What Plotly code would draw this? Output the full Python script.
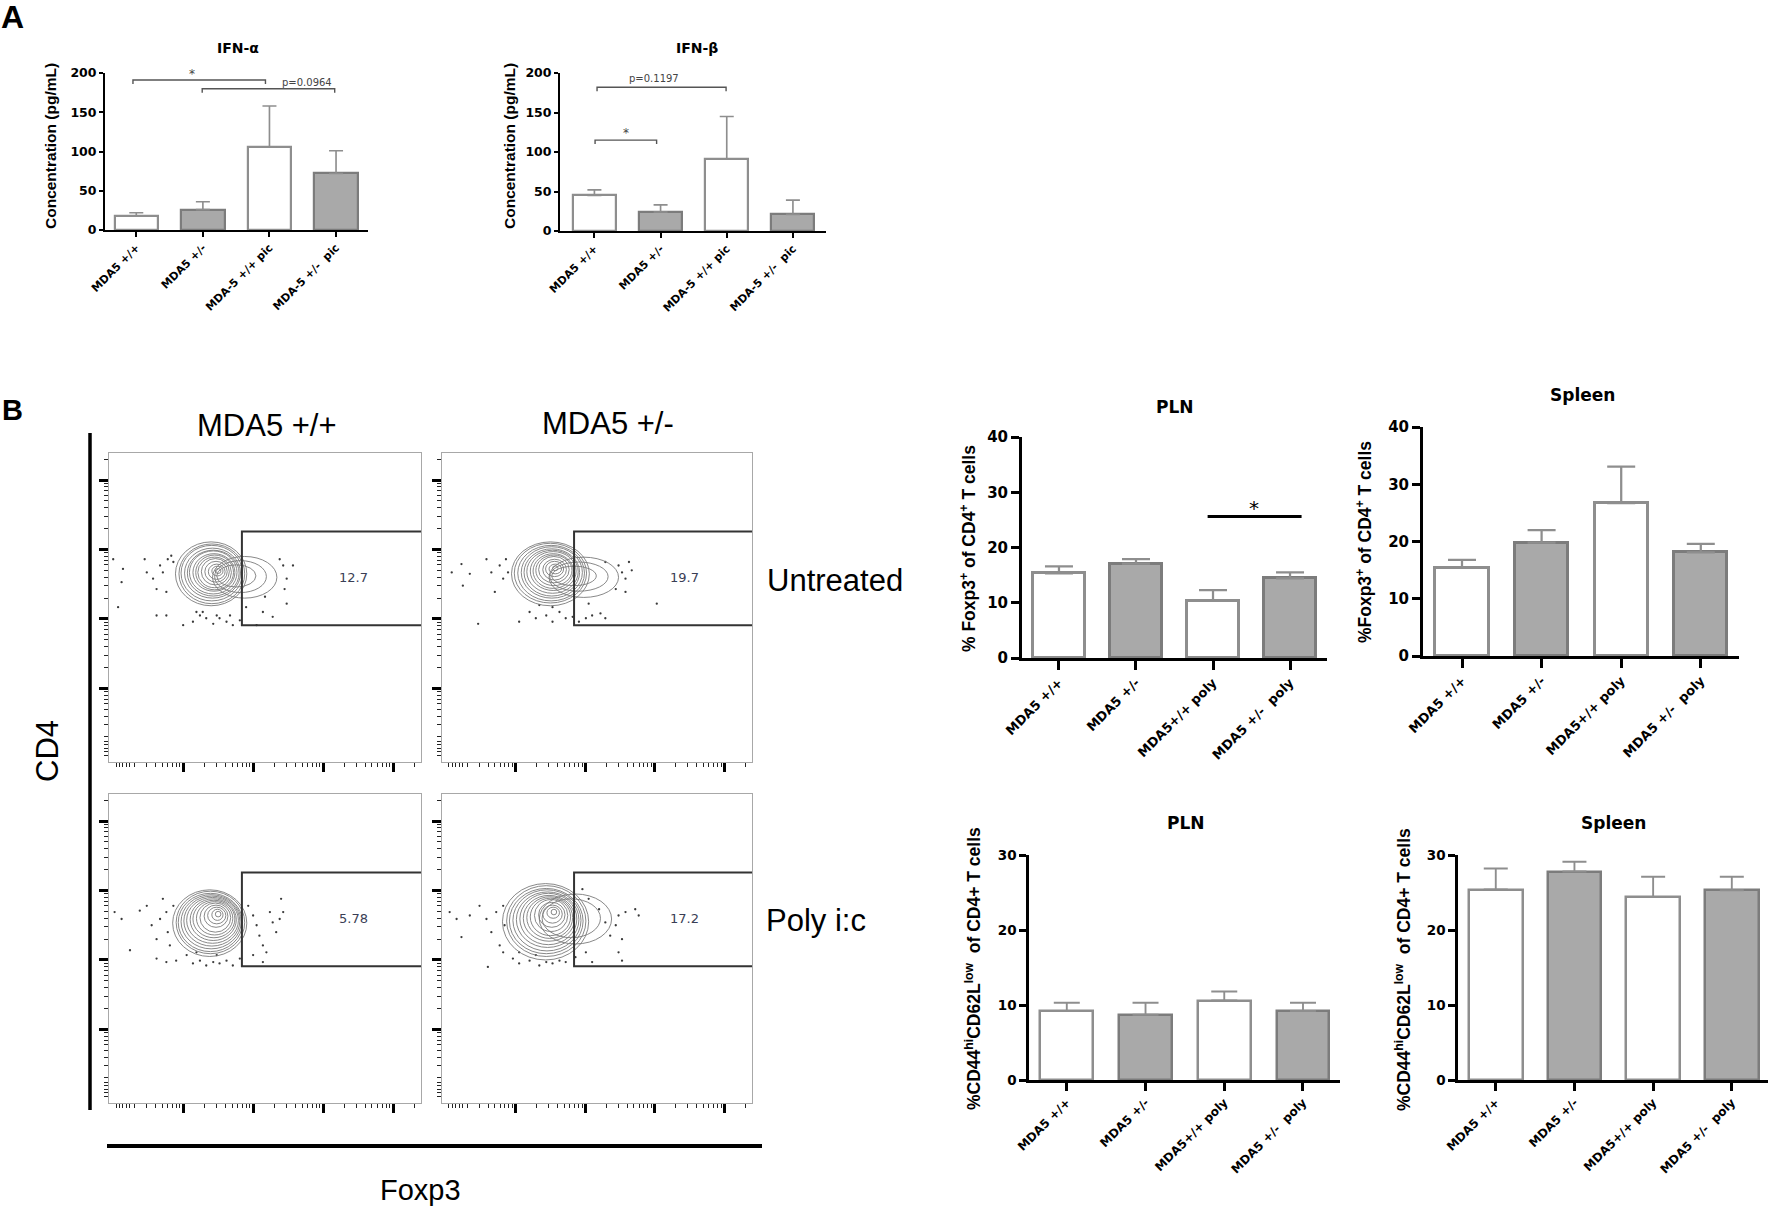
import math
import plotly.graph_objects as go

W, H = 1772, 1209

# --- A: serum interferon (pg/mL), mean and SEM ---
ifn_groups = ["MDA5 +/+", "MDA5 +/-", "MDA-5 +/+ pic", "MDA-5 +/-\u00a0 pic"]
ifna_mean = [18, 26, 106, 72]
ifna_sem = [4, 10, 52, 29]
ifnb_mean = [45, 24, 91, 21]
ifnb_sem = [7, 9, 54, 18]

# brackets: (from, to, level, label, label x, label y)
ifna_sig = [(-0.05, 1.94, 191, "*", 0.83, 199), (0.99, 2.98, 180, "p=0.0964", 2.56, 188)]
ifnb_sig = [(0.04, 1.99, 182, "p=0.1197", 0.9, 193), (0.01, 0.94, 115, "*", 0.48, 124)]

# --- B: % of CD4+ T cells, mean and SEM ---
b_groups = ["MDA5 +/+", "MDA5 +/-", "MDA5+/+ poly", "MDA5 +/-\u00a0 poly"]
pln_foxp3_mean = [15.3, 17.1, 10.4, 14.4]
pln_foxp3_sem = [1.3, 0.8, 1.9, 1.1]
spl_foxp3_mean = [15.4, 19.8, 26.7, 18.1]
spl_foxp3_sem = [1.4, 2.2, 6.4, 1.5]
pln_cd44_mean = [9.2, 8.7, 10.6, 9.2]
pln_cd44_sem = [1.1, 1.6, 1.2, 1.1]
spl_cd44_mean = [25.4, 27.8, 24.4, 25.3]
spl_cd44_sem = [2.8, 1.3, 2.7, 1.8]
pln_foxp3_sig = (1.93, 3.15, 25.6, "*", 2.53, 27.2)

# --- B: flow plots (log decades), Foxp3 gate ---
gate_pct = ["12.7", "19.7", "5.78", "17.2"]
gate_x = [1.84, 4.4]
gate_y = [1.91, 3.26]

# contour rings (cx, cy, rx, ry)
rings_wt = [(1.40, 2.65, 0.51, 0.46), (1.41, 2.65, 0.47, 0.43), (1.41, 2.66, 0.44, 0.40),
            (1.42, 2.66, 0.40, 0.36), (1.43, 2.66, 0.37, 0.33), (1.43, 2.67, 0.34, 0.31),
            (1.44, 2.67, 0.30, 0.27), (1.45, 2.67, 0.27, 0.25), (1.45, 2.67, 0.24, 0.22),
            (1.46, 2.68, 0.20, 0.19), (1.47, 2.68, 0.16, 0.15), (1.48, 2.68, 0.12, 0.11),
            (1.49, 2.69, 0.08, 0.07), (1.50, 2.69, 0.04, 0.035),
            (1.88, 2.60, 0.46, 0.30), (1.82, 2.61, 0.37, 0.23), (1.76, 2.62, 0.28, 0.16)]
rings_het = [(1.50, 2.65, 0.56, 0.46), (1.50, 2.66, 0.52, 0.43), (1.51, 2.66, 0.48, 0.40),
             (1.52, 2.67, 0.44, 0.37), (1.52, 2.67, 0.40, 0.34), (1.53, 2.68, 0.37, 0.31),
             (1.54, 2.69, 0.33, 0.28), (1.54, 2.69, 0.29, 0.25), (1.55, 2.70, 0.26, 0.22),
             (1.55, 2.71, 0.22, 0.19), (1.56, 2.71, 0.17, 0.15), (1.56, 2.72, 0.13, 0.11),
             (1.57, 2.72, 0.09, 0.07), (1.57, 2.73, 0.04, 0.035),
             (1.98, 2.60, 0.50, 0.29), (1.91, 2.61, 0.42, 0.21), (1.84, 2.62, 0.32, 0.14)]
rings_wt_pic = [(1.38, 2.53, 0.53, 0.48), (1.39, 2.54, 0.49, 0.45), (1.39, 2.54, 0.46, 0.42),
                (1.40, 2.55, 0.43, 0.39), (1.41, 2.56, 0.40, 0.36), (1.42, 2.57, 0.37, 0.33),
                (1.43, 2.58, 0.33, 0.30), (1.44, 2.59, 0.30, 0.27), (1.45, 2.60, 0.26, 0.24),
                (1.46, 2.61, 0.22, 0.21), (1.47, 2.63, 0.17, 0.16), (1.48, 2.64, 0.13, 0.12),
                (1.49, 2.65, 0.08, 0.08), (1.50, 2.66, 0.04, 0.04)]
rings_het_pic = [(1.43, 2.55, 0.62, 0.55), (1.44, 2.56, 0.57, 0.51), (1.44, 2.56, 0.53, 0.47),
                 (1.45, 2.57, 0.49, 0.44), (1.46, 2.58, 0.45, 0.40), (1.47, 2.59, 0.41, 0.37),
                 (1.48, 2.60, 0.37, 0.33), (1.49, 2.61, 0.33, 0.30), (1.50, 2.62, 0.29, 0.27),
                 (1.51, 2.64, 0.24, 0.23), (1.52, 2.65, 0.19, 0.18), (1.53, 2.66, 0.14, 0.13),
                 (1.54, 2.68, 0.09, 0.08), (1.55, 2.69, 0.04, 0.04),
                 (1.86, 2.59, 0.52, 0.36), (1.80, 2.60, 0.42, 0.28)]

# outlier events
dots_wt_x = [0.00, 0.14, 0.12, 0.07, 0.45, 0.48, 0.57, 0.62, 0.67, 0.71, 0.76, 0.78, 0.62, 0.76,
             1.00, 1.14, 1.24, 1.33, 1.43, 1.52, 1.62, 1.71, 1.81, 1.28, 1.48, 1.67, 1.90, 2.05,
             2.28, 2.17, 2.48, 2.38, 2.43, 2.48, 2.45, 2.57, 2.14, 0.86, 0.83, 1.19]
dots_wt_y = [2.86, 2.72, 2.53, 2.17, 2.86, 2.67, 2.58, 2.43, 2.77, 2.67, 2.39, 2.86, 2.05, 2.05,
             1.91, 1.96, 2.05, 2.01, 1.93, 2.01, 1.96, 1.91, 1.98, 2.10, 2.05, 2.05, 2.17, 1.91,
             2.03, 2.32, 2.22, 2.86, 2.77, 2.58, 2.43, 2.77, 2.10, 2.82, 2.91, 2.10]
dots_het_x = [0.08, 0.22, 0.34, 0.24, 0.46, 0.58, 0.65, 0.70, 0.77, 0.82, 0.86, 0.89, 1.05,
              1.20, 1.29, 1.44, 1.53, 1.63, 1.72, 1.82, 1.91, 2.01, 2.10, 2.22, 2.29, 1.34,
              1.53, 2.05, 2.48, 2.53, 2.58, 2.63, 2.67, 2.58, 3.03, 2.29, 2.44]
dots_het_y = [2.67, 2.79, 2.65, 2.48, 1.93, 2.86, 2.67, 2.39, 2.77, 2.58, 2.86, 2.67, 1.96,
              2.10, 2.01, 2.05, 1.96, 2.10, 2.01, 2.03, 1.96, 2.01, 2.05, 2.08, 2.01, 2.20,
              2.17, 2.22, 2.77, 2.67, 2.58, 2.82, 2.70, 2.39, 2.22, 2.82, 2.43]
dots_wt_pic_x = [0.02, 0.12, 0.24, 0.38, 0.48, 0.55, 0.62, 0.67, 0.71, 0.76, 0.78, 0.81, 0.86,
                 0.62, 0.76, 0.90, 1.05, 1.14, 1.24, 1.33, 1.43, 1.52, 1.62, 1.71, 1.81, 1.19, 1.48,
                 1.93, 2.00, 2.05, 2.09, 2.14, 2.19, 2.24, 2.28, 2.33, 2.38, 2.43, 2.00, 2.14, 2.40]
dots_wt_pic_y = [2.69, 2.59, 2.14, 2.71, 2.78, 2.50, 2.30, 2.59, 2.88, 2.69, 2.40, 2.21, 2.78,
                 2.02, 1.97, 1.99, 2.07, 1.95, 1.99, 1.92, 1.97, 1.95, 1.99, 1.92, 2.02, 2.11, 2.07,
                 2.78, 2.64, 2.50, 2.35, 2.21, 2.11, 2.69, 2.54, 2.40, 2.59, 2.69, 2.07, 1.97, 2.88]
dots_het_pic_x = [0.05, 0.15, 0.22, 0.34, 0.48, 0.58, 0.60, 0.65, 0.72, 0.77, 0.82, 0.84,
                  0.82, 0.96, 1.05, 1.20, 1.34, 1.44, 1.53, 1.63, 1.72, 1.86, 2.01, 2.10, 1.05, 1.29,
                  1.96, 2.05, 2.20, 2.29, 2.36, 2.44, 2.48, 2.53, 2.58, 2.72, 2.77, 2.48, 2.53]
dots_het_pic_y = [2.69, 2.59, 2.33, 2.64, 2.78, 2.59, 1.90, 2.40, 2.69, 2.21, 2.78, 2.50,
                  2.11, 2.02, 1.95, 1.99, 1.92, 1.97, 1.95, 1.99, 1.97, 2.04, 2.11, 1.97, 2.11, 2.07,
                  3.02, 2.88, 2.73, 2.54, 2.35, 2.50, 2.64, 2.30, 2.69, 2.73, 2.64, 2.11, 1.99]

BOLD = "DejaVu Sans"
ARIAL = "Liberation Sans"


def names(n):
    s = "" if n == 1 else str(n)
    return "xaxis" + s, "yaxis" + s, "x" + s, "y" + s


def ann(fig, text, x, y, size, family=ARIAL, weight="normal", angle=0, xanchor="center", color="black"):
    fig.add_annotation(x=x / W, y=1 - y / H, xref="paper", yref="paper", text=text, showarrow=False,
                       textangle=angle, xanchor=xanchor, yanchor="middle",
                       font=dict(family=family, size=size, color=color, weight=weight))


def bar_panel(fig, n, means, sems, labels, xdom, ydom, xr, ymax, dtick, bw, lw, cap,
              tick_sz, lab_sz, axis_w, tlen):
    xa, ya, xref, yref = names(n)
    xs = list(range(len(means)))
    fills = ["white", "#a9a9a9", "white", "#a9a9a9"]
    edges = ["#8e8e8e", "#7c7c7c", "#8e8e8e", "#7c7c7c"]
    fig.add_trace(go.Bar(
        x=xs, y=means, width=bw, xaxis=xref, yaxis=yref,
        marker=dict(color=fills, line=dict(color=edges, width=lw)),
        error_y=dict(type="data", symmetric=False, array=sems, arrayminus=[0] * len(sems),
                     color="#8e8e8e", thickness=lw * 0.75, width=cap)))
    fig.update_layout(**{
        xa: dict(domain=[xdom[0] / W, xdom[1] / W], range=xr, anchor=yref, tickvals=xs,
                 ticktext=labels, tickangle=-45, ticks="outside", ticklen=tlen, tickwidth=axis_w,
                 tickcolor="black", showline=True, linecolor="black", linewidth=axis_w,
                 showgrid=False, zeroline=False, automargin=False,
                 tickfont=dict(family=BOLD, size=lab_sz, color="black", weight="bold")),
        ya: dict(domain=[1 - ydom[1] / H, 1 - ydom[0] / H], range=[0, ymax], anchor=xref,
                 dtick=dtick, ticks="outside", ticklen=tlen - 1, tickwidth=axis_w,
                 tickcolor="black", showline=True, linecolor="black", linewidth=axis_w,
                 showgrid=False, zeroline=False, automargin=False,
                 tickfont=dict(family=BOLD, size=tick_sz, color="black", weight="bold")),
    })
    return xref, yref


def brackets(fig, xref, yref, sigs, drop):
    for x0, x1, lev, text, tx, ty in sigs:
        fig.add_trace(go.Scatter(x=[x0, x0, x1, x1], y=[lev - drop, lev, lev, lev - drop],
                                 mode="lines", line=dict(color="#555555", width=1.4),
                                 xaxis=xref, yaxis=yref, hoverinfo="skip", cliponaxis=False))
        fig.add_annotation(x=tx, y=ty, xref=xref, yref=yref, text=text, showarrow=False,
                           font=dict(family="DejaVu Sans", size=10 if text != "*" else 12,
                                     color="#444444"))


def flow_panel(fig, n, xdom, ydom, rings, dx, dy, pct):
    xa, ya, xref, yref = names(n)
    minor = [0.04, 0.09, 0.14, 0.19, 0.24] + [d + math.log10(k) for d in range(4) for k in range(2, 10)] + [4.3]
    common = dict(ticks="outside", ticklen=9, tickwidth=2.5, tickcolor="black", tickvals=[1, 2, 3, 4],
                  minor=dict(tickvals=minor, ticks="outside", ticklen=4, tickwidth=1.3, tickcolor="#222222"),
                  showticklabels=False, showline=True, mirror=True, linecolor="#a8a8a8", linewidth=1,
                  showgrid=False, zeroline=False, automargin=False)
    fig.update_layout(**{
        xa: dict(domain=[xdom[0] / W, xdom[1] / W], range=[-0.06, 4.4], anchor=yref, **common),
        ya: dict(domain=[1 - ydom[1] / H, 1 - ydom[0] / H], range=[-0.06, 4.39], anchor=xref, **common),
    })
    for cx, cy, rx, ry in rings:
        fig.add_shape(type="circle", xref=xref, yref=yref, x0=cx - rx, x1=cx + rx, y0=cy - ry, y1=cy + ry,
                      line=dict(color="#7a7a7a", width=0.9))
    fig.add_trace(go.Scatter(x=dx, y=dy, mode="markers", xaxis=xref, yaxis=yref, hoverinfo="skip",
                             marker=dict(size=2.3, color="#3a3a3a")))
    g0, g1 = gate_x
    h0, h1 = gate_y
    fig.add_shape(type="path", xref=xref, yref=yref,
                  path=f"M {g1} {h1} L {g0} {h1} L {g0} {h0} L {g1} {h0}",
                  line=dict(color="#333333", width=2))
    fig.add_annotation(x=3.43, y=2.6, xref=xref, yref=yref, text=pct, showarrow=False,
                       font=dict(family="DejaVu Sans", size=13, color="#3a3e55"))


fig = go.Figure()

# panel A
xr_, yr_ = bar_panel(fig, 1, ifna_mean, ifna_sem, ifn_groups, (105, 368), (73, 230), [-0.47, 3.48],
                     200, 50, 0.65, 2.2, 7, 12.5, 11, 2, 5)
brackets(fig, xr_, yr_, ifna_sig, 5)
xr_, yr_ = bar_panel(fig, 2, ifnb_mean, ifnb_sem, ifn_groups, (560, 826), (73, 231), [-0.52, 3.5],
                     200, 50, 0.65, 2.2, 7, 12.5, 11, 2, 5)
brackets(fig, xr_, yr_, ifnb_sig, 5)

# panel B bar charts
xr_, yr_ = bar_panel(fig, 3, pln_foxp3_mean, pln_foxp3_sem, b_groups, (1022, 1327), (437, 658),
                     [-0.48, 3.48], 40, 10, 0.675, 3, 14, 15, 13, 3, 9)
x0, x1, lev, text, tx, ty = pln_foxp3_sig
fig.add_trace(go.Scatter(x=[x0, x1], y=[lev, lev], mode="lines", line=dict(color="black", width=3),
                         xaxis=xr_, yaxis=yr_, hoverinfo="skip"))
fig.add_annotation(x=tx, y=ty, xref=xr_, yref=yr_, text=text, showarrow=False,
                   font=dict(family="DejaVu Sans", size=20, color="black"))
bar_panel(fig, 4, spl_foxp3_mean, spl_foxp3_sem, b_groups, (1423, 1739), (427, 656),
          [-0.49, 3.48], 40, 10, 0.67, 3, 14, 15, 13, 3, 9)
bar_panel(fig, 5, pln_cd44_mean, pln_cd44_sem, b_groups, (1029, 1340), (855, 1080),
          [-0.48, 3.47], 30, 10, 0.67, 2.5, 13, 13.5, 12, 2.5, 8)
bar_panel(fig, 6, spl_cd44_mean, spl_cd44_sem, b_groups, (1458, 1768), (855, 1080),
          [-0.48, 3.46], 30, 10, 0.68, 2.5, 12, 13.5, 12, 2.5, 8)

# panel B flow plots
flow_panel(fig, 7, (109, 421), (453, 762), rings_wt, dots_wt_x, dots_wt_y, gate_pct[0])
flow_panel(fig, 8, (442, 752), (453, 762), rings_het, dots_het_x, dots_het_y, gate_pct[1])
flow_panel(fig, 9, (109, 421), (794, 1103), rings_wt_pic, dots_wt_pic_x, dots_wt_pic_y, gate_pct[2])
flow_panel(fig, 10, (442, 752), (794, 1103), rings_het_pic, dots_het_pic_x, dots_het_pic_y, gate_pct[3])

# heavy axis bars for CD4 / Foxp3
fig.add_shape(type="line", xref="paper", yref="paper", x0=90 / W, x1=90 / W, y0=1 - 433 / H, y1=1 - 1110 / H,
              line=dict(color="black", width=3.5))
fig.add_shape(type="line", xref="paper", yref="paper", x0=107 / W, x1=762 / W, y0=1 - 1146 / H, y1=1 - 1146 / H,
              line=dict(color="black", width=4))

# text
ann(fig, "A", 12, 17, 32, weight="bold")
ann(fig, "B", 12, 410, 29, weight="bold")
ann(fig, "IFN-\u03b1", 238, 48, 14, family=BOLD, weight="bold")
ann(fig, "IFN-\u03b2", 697, 48, 14, family=BOLD, weight="bold")
ann(fig, "Concentration (pg/mL)", 50, 146, 15.5, weight="bold", angle=-90)
ann(fig, "Concentration (pg/mL)", 509, 146, 15.5, weight="bold", angle=-90)
ann(fig, "PLN", 1175, 407, 17, family=BOLD, weight="bold")
ann(fig, "Spleen", 1582, 395, 17, family=BOLD, weight="bold")
ann(fig, "PLN", 1186, 823, 17, family=BOLD, weight="bold")
ann(fig, "Spleen", 1613, 823, 17, family=BOLD, weight="bold")
ann(fig, "% Foxp3<sup>+</sup> of CD4<sup>+</sup> T cells", 968, 549, 17.5, weight="bold", angle=-90)
ann(fig, "%Foxp3<sup>+</sup> of CD4<sup>+</sup> T cells", 1364, 542, 17.5, weight="bold", angle=-90)
ann(fig, "%CD44<sup>hi</sup>CD62L<sup>low</sup>\u00a0 of CD4+ T cells", 973, 969, 17.5, weight="bold", angle=-90)
ann(fig, "%CD44<sup>hi</sup>CD62L<sup>low</sup>\u00a0 of CD4+ T cells", 1403, 970, 17.5, weight="bold", angle=-90)
ann(fig, "MDA5 +/+", 267, 425, 31)
ann(fig, "MDA5 +/-", 608, 423, 31)
ann(fig, "Untreated", 765, 580, 31, xanchor="left")
ann(fig, "Poly i:c", 764, 920, 31, xanchor="left")
ann(fig, "CD4", 47, 751, 31, angle=-90)
ann(fig, "Foxp3", 420, 1190, 29)

fig.update_layout(width=W, height=H, margin=dict(l=0, r=0, t=0, b=0, autoexpand=False),
                  showlegend=False, paper_bgcolor="white", plot_bgcolor="white",
                  hovermode=False, bargap=0)

# the page's default body margin would shift the figure
fig.write_html("out.html", config={"displayModeBar": False},
               post_script="document.body.style.margin='0';document.body.style.overflow='hidden';")
